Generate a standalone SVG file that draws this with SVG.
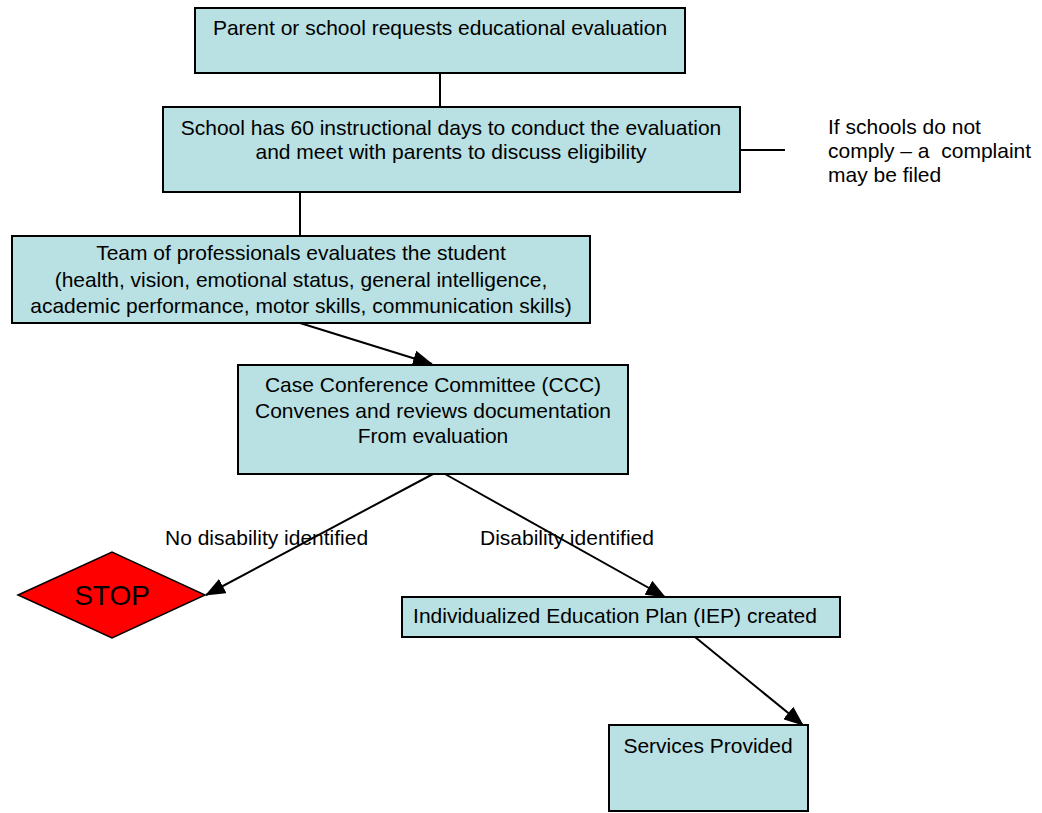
<svg xmlns="http://www.w3.org/2000/svg" width="1042" height="813" viewBox="0 0 1042 813">
<defs>
<style>
.box{fill:#b9e0e2;stroke:#000;stroke-width:2}
.t{font-family:"Liberation Sans",Arial,sans-serif;font-size:21px;fill:#000;text-anchor:middle}
.l{font-family:"Liberation Sans",Arial,sans-serif;font-size:21px;fill:#000;white-space:pre}
.c{stroke:#000;stroke-width:2;fill:none}
</style>
<marker id="ah2" markerWidth="20" markerHeight="16" refX="19" refY="8" orient="auto" markerUnits="userSpaceOnUse" viewBox="0 0 20 16">
<path d="M0,0 L20,8 L0,16 z" fill="#000"/>
</marker>
</defs>
<rect width="1042" height="813" fill="#fff"/>
<g id="connectors">
<line class="c" x1="440" y1="73" x2="440" y2="107"/>
<line class="c" x1="740" y1="150" x2="785" y2="150"/>
<line class="c" x1="300" y1="192" x2="300" y2="236"/>
<line class="c" x1="300" y1="323" x2="432" y2="364" marker-end="url(#ah2)"/>
<line class="c" x1="433" y1="474" x2="206" y2="595" marker-end="url(#ah2)"/>
<line class="c" x1="445" y1="474" x2="665" y2="597" marker-end="url(#ah2)"/>
<line class="c" x1="695" y1="637" x2="803" y2="725" marker-end="url(#ah2)"/>
</g>
<g id="n1">
<rect class="box" x="195" y="8" width="490" height="65"/>
<text class="t" x="440" y="35">Parent or school requests educational evaluation</text>
</g>
<g id="n2">
<rect class="box" x="163" y="107" width="577" height="85"/>
<text class="t" x="451" y="135">School has 60 instructional days to conduct the evaluation</text>
<text class="t" x="451" y="159">and meet with parents to discuss eligibility</text>
</g>
<g id="note">
<text class="l" x="828" y="134">If schools do not</text>
<text class="l" x="828" y="158">comply – a  complaint</text>
<text class="l" x="828" y="182">may be filed</text>
</g>
<g id="n3">
<rect class="box" x="12" y="236" width="578" height="87"/>
<text class="t" x="301" y="260">Team of professionals evaluates the student</text>
<text class="t" x="301" y="287">(health, vision, emotional status, general intelligence,</text>
<text class="t" x="301" y="313">academic performance, motor skills, communication skills)</text>
</g>
<g id="n4">
<rect class="box" x="238" y="365" width="390" height="109"/>
<text class="t" x="433" y="392">Case Conference Committee (CCC)</text>
<text class="t" x="433" y="418">Convenes and reviews documentation</text>
<text class="t" x="433" y="443">From evaluation</text>
</g>
<g id="labels">
<text class="l" x="165" y="545">No disability identified</text>
<text class="l" x="480" y="545">Disability identified</text>
</g>
<g id="stop">
<polygon points="18,595 112,552 205,595 112,638" fill="#ff0000" stroke="#000" stroke-width="1.5"/>
<text class="t" x="112" y="605" style="font-size:28px">STOP</text>
</g>
<g id="n5">
<rect class="box" x="402" y="597" width="438" height="40"/>
<text class="t" x="615" y="623">Individualized Education Plan (IEP) created</text>
</g>
<g id="n6">
<rect class="box" x="609" y="725" width="199" height="86"/>
<text class="t" x="708" y="753">Services Provided</text>
</g>
</svg>
